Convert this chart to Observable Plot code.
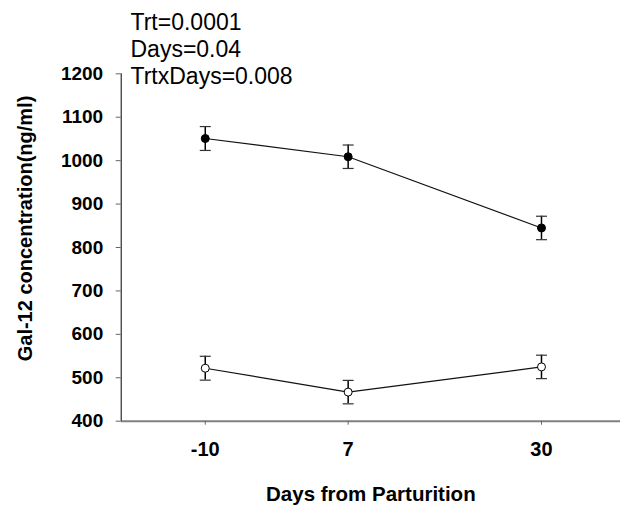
<!DOCTYPE html>
<html>
<head>
<meta charset="utf-8">
<script src="https://cdn.jsdelivr.net/npm/d3@7"></script>
<script src="https://cdn.jsdelivr.net/npm/@observablehq/plot@0.6"></script>
<style>
  html, body { margin: 0; padding: 0; background: #fff; overflow: hidden; }
  #chart { width: 620px; height: 510px; }
</style>
</head>
<body>
<div id="chart"></div>
<script>
// Data
const days = [-10, 7, 30];
const treatedMean = [1051, 1009, 845];
const treatedSE = [27.5, 27, 27];
const controlMean = [522, 467, 525];
const controlSE = [27.5, 27, 27];
const yTicks = [400, 500, 600, 700, 800, 900, 1000, 1100, 1200];
const xTicks = [-10, 7, 30];
const annotation = ["Trt=0.0001", "Days=0.04", "TrtxDays=0.008"];
const xTitle = "Days from Parturition";
const yTitle = "Gal-12 concentration(ng/ml)";

const rows = [];
days.forEach((d, i) => rows.push({group: "treated", day: d, mean: treatedMean[i], lo: treatedMean[i] - treatedSE[i], hi: treatedMean[i] + treatedSE[i]}));
days.forEach((d, i) => rows.push({group: "control", day: d, mean: controlMean[i], lo: controlMean[i] - controlSE[i], hi: controlMean[i] + controlSE[i]}));

const capSymbol = {
  draw(context, size) {
    const w = Math.sqrt(size / Math.PI);
    context.moveTo(-w, 0);
    context.lineTo(w, 0);
  }
};

const font = "'Liberation Sans', Arial, Helvetica, sans-serif";
const plain = d => String(d);

const chart = Plot.plot({
  width: 620,
  height: 510,
  marginLeft: 120.7,
  marginRight: 0,
  marginTop: 73.3,
  marginBottom: 89.3,
  style: {fontFamily: font, background: "#fff", color: "#000"},
  x: {domain: [-20, 39.4], axis: null},
  y: {domain: [400, 1200], axis: null},
  marks: [
    Plot.ruleY([400], {stroke: "#808080", strokeWidth: 2}),
    Plot.ruleX([-20], {y1: 400, y2: 1200, stroke: "#000", strokeWidth: 1}),
    Plot.axisY(yTicks, {tickSize: 5, tickPadding: 13, tickFormat: plain, fontSize: 19, fontWeight: "bold", stroke: "#666", fill: "#000", label: null}),
    Plot.axisX(xTicks, {tickSize: 4, tickPadding: 17, tickFormat: plain, fontSize: 20, fontWeight: "bold", stroke: "#666", fill: "#000", label: null}),
    Plot.line(rows, {x: "day", y: "mean", z: "group", stroke: "#111", strokeWidth: 1.2}),
    Plot.ruleX(rows, {x: "day", y1: "lo", y2: "hi", stroke: "#000", strokeWidth: 1.5}),
    Plot.dot(rows, {x: "day", y: "hi", symbol: capSymbol, r: 5.5, stroke: "#333", strokeWidth: 1.2, fill: "none"}),
    Plot.dot(rows, {x: "day", y: "lo", symbol: capSymbol, r: 5.5, stroke: "#333", strokeWidth: 1.2, fill: "none"}),
    Plot.dot(rows, {x: "day", y: "mean", r: 4, stroke: "#000", strokeWidth: 1, fill: d => d.group === "treated" ? "#000" : "#fff"}),
    Plot.text([annotation.join("\n")], {frameAnchor: "top-left", textAnchor: "start", lineAnchor: "top", lineHeight: 1.16, dx: 9.3, dy: -62.3, fontSize: 23, fill: "#000"}),
    Plot.text([xTitle], {frameAnchor: "bottom", textAnchor: "middle", lineAnchor: "top", dy: 65.3, fontSize: 20.5, fontWeight: "bold", fill: "#000"}),
    Plot.text([yTitle], {frameAnchor: "left", textAnchor: "middle", lineAnchor: "middle", rotate: -90, dx: -95.7, dy: -19, fontSize: 20, fontWeight: "bold", fill: "#000"})
  ]
});
document.getElementById("chart").appendChild(chart);
</script>
</body>
</html>
